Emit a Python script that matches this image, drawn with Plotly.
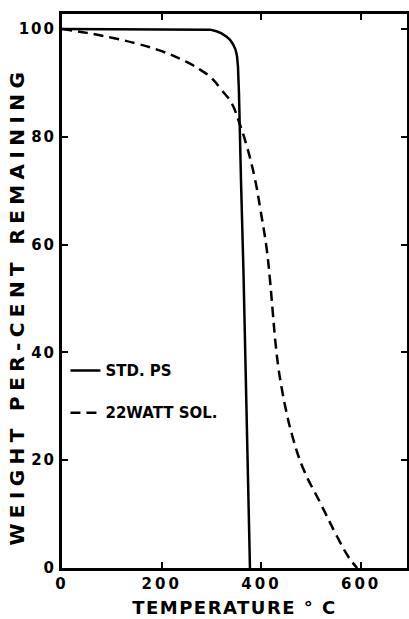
import plotly.graph_objects as go

# Standard polystyrene (solid)
std_temp = [0, 100, 200, 280, 297, 310, 320, 330, 337, 343, 348, 351, 353, 355, 357, 359, 364, 369, 373, 377]
std_wt = [100, 100, 100, 100, 99.9, 99.6, 99.2, 98.6, 98.0, 97.2, 96.2, 95.0, 93.0, 88.0, 82.0, 72.0, 55.0, 36.0, 18.0, 0]

# 22 watt solution (dashed)
sol_temp = [0, 50, 100, 150, 200, 250, 280, 300, 320, 340, 355, 370, 387, 398, 410, 417, 423, 428, 434, 441, 450, 462, 484, 518, 552, 575, 592]
sol_wt = [100, 99.3, 98.4, 97.3, 95.9, 93.9, 92.3, 90.9, 88.7, 86.3, 82.8, 78.5, 72.2, 66.5, 59.6, 53.6, 47.2, 42.0, 37.2, 33.2, 29.0, 24.5, 18.4, 12.1, 5.8, 2.0, 0]

x_ticks = [0, 200, 400, 600]
y_ticks = [0, 20, 40, 60, 80, 100]

FONT = "DejaVu Sans"

fig = go.Figure()
fig.add_trace(go.Scatter(x=std_temp, y=std_wt, mode="lines", name="STD. PS",
                         line=dict(color="black", width=2.5), legend="legend"))
fig.add_trace(go.Scatter(x=sol_temp, y=sol_wt, mode="lines", name="22WATT SOL.",
                         line=dict(color="black", width=2.5, dash="10px,6px", shape="spline", smoothing=1.2),
                         legend="legend2"))
# invisible trace for the right-hand axis
fig.add_trace(go.Scatter(x=[0], y=[0], yaxis="y2", mode="markers", marker=dict(opacity=0),
                         showlegend=False, hoverinfo="skip"))

legfont = dict(family=FONT, size=15, color="black", weight="bold")
fig.update_layout(
    width=409, height=619,
    margin=dict(l=62, r=2, t=14, b=51),
    paper_bgcolor="white", plot_bgcolor="white",
    font=dict(family=FONT, color="black"),
    xaxis=dict(range=[0, 692], tickvals=x_ticks, ticks="inside", ticklen=6, tickwidth=2,
               tickcolor="black", showline=True, linewidth=3, linecolor="black",
               mirror="ticks", showgrid=False, zeroline=False,
               tickfont=dict(family=FONT, size=15, color="black", weight="bold"),
               title=dict(text="TEMPERATURE ° C", standoff=10,
                          font=dict(family=FONT, size=18, color="black", weight="bold"))),
    yaxis=dict(range=[0, 102.8], tickvals=y_ticks, ticks="inside", ticklen=6, tickwidth=2,
               tickcolor="black", showline=True, linewidth=3, linecolor="black",
               showgrid=False, zeroline=False,
               tickfont=dict(family=FONT, size=15, color="black", weight="bold")),
    yaxis2=dict(overlaying="y", side="right", matches="y", range=[0, 102.8], tickvals=y_ticks,
                ticks="inside", ticklen=6, tickwidth=2, tickcolor="black", showticklabels=False,
                showline=True, linewidth=1.5, linecolor="black", showgrid=False, zeroline=False),
    legend=dict(x=0.01, y=0.356, xanchor="left", yanchor="middle", bgcolor="rgba(0,0,0,0)",
                font=legfont, itemwidth=30),
    legend2=dict(x=0.01, y=0.280, xanchor="left", yanchor="middle", bgcolor="rgba(0,0,0,0)",
                 font=legfont, itemwidth=30),
    showlegend=True,
    annotations=[dict(text="WEIGHT PER-CENT REMAINING", textangle=-90,
                      xref="paper", yref="paper", x=-0.13, y=0.473,
                      xanchor="center", yanchor="middle", showarrow=False,
                      font=dict(family=FONT, size=20, color="black", weight="bold"))],
)

post = """
var gd = document.getElementById('{plot_id}');
function sp(sel, v){ gd.querySelectorAll(sel).forEach(function(e){ e.style.letterSpacing = v; }); }
sp('.xtitle', '1.5px'); sp('.annotation-text', '5.4px'); sp('.xtick text', '3px'); sp('.ytick text', '2px');
"""

fig.write_html("out.html", post_script=post)
